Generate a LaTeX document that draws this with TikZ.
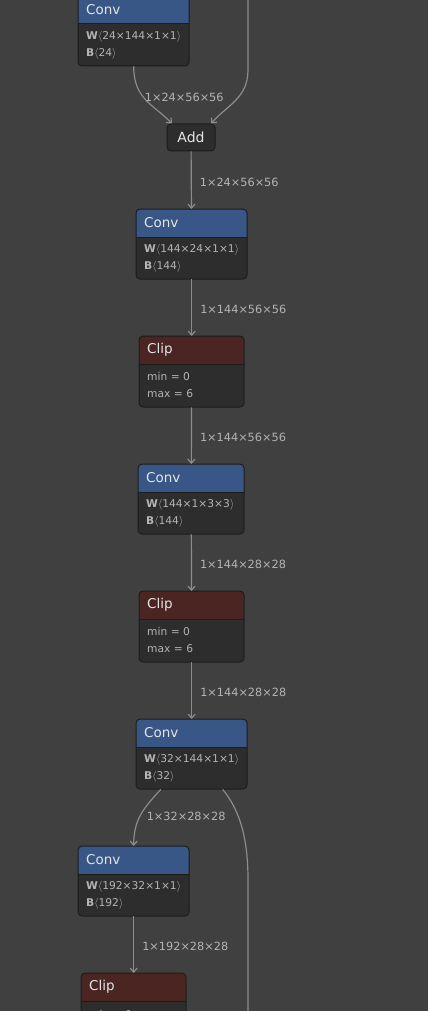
\documentclass[tikz,border=0pt]{standalone}
\usepackage{fontspec}
\setmainfont{DejaVu Sans}
\usetikzlibrary{positioning,calc,arrows.meta}

\definecolor{canvas}{HTML}{404040}
\definecolor{opbody}{HTML}{2D2D2D}
\definecolor{opline}{HTML}{1C1C1C}
\definecolor{layerblue}{HTML}{385686}
\definecolor{activred}{HTML}{4A2521}
\definecolor{edgegray}{HTML}{8C8C8C}
\definecolor{labelgray}{HTML}{B4B4B4}

\tikzstyle{opTitle} = [inner sep=0pt, anchor=west, text=white!90!black, font=\fontsize{13.5}{16}\selectfont]
\tikzstyle{opAttr} = [inner sep=0pt, anchor=west, align=left, text=labelgray, font=\fontsize{10.7}{17}\selectfont]
\tikzstyle{addNode} = [rectangle, rounded corners=4pt, minimum width=48pt, minimum height=27pt, inner sep=0pt, fill=opbody, draw=opline, line width=1pt, text=white!90!black, font=\fontsize{14}{16}\selectfont]
\tikzstyle{lbl} = [inner sep=0pt, text=labelgray, font=\fontsize{11.3}{14}\selectfont]
\tikzstyle{edge} = [edgegray, line width=1.2pt, -{Straight Barb[length=4pt,width=7pt]}]
\tikzstyle{wire} = [edgegray, line width=1.2pt]

% box with coloured head: name, left, top, width, height, head colour, title, attributes
\newcommand{\netop}[8]{%
  \begin{scope}
    \clip[rounded corners=4pt] (#2,#3) rectangle ++(#4,#5);
    \fill[opbody] (#2,#3) rectangle ++(#4,#5);
    \fill[#6] (#2,#3) rectangle ++(#4,28);
  \end{scope}
  \draw[opline, line width=1pt] (#2,#3+28) -- ++(#4,0);
  \draw[opline, line width=1pt, rounded corners=4pt] (#2,#3) rectangle ++(#4,#5);
  \node (#1) [inner sep=0pt, minimum width=#4pt, minimum height=#5pt, anchor=north west] at (#2,#3) {};
  \node (#1-title) [opTitle] at (#2+8,#3+14) {#7};
  \node (#1-attr) [opAttr] at (#2+8,#3+49.5) {#8};
}
\newcommand{\wt}[1]{\textbf{W}$\langle$#1$\rangle$}
\newcommand{\bs}[1]{\textbf{B}$\langle$#1$\rangle$}

\begin{document}
\begin{tikzpicture}[x=1pt, y=-1pt]
    \fill[canvas] (0,0) rectangle (428,1011);
    \useasboundingbox (0,0) rectangle (428,1011);

    \netop{conv1}{78}{-4}{111}{70}{layerblue}{Conv}{\wt{24×144×1×1}\\ \bs{24}}
    \node (add) [addNode] at (191,137.5) {Add};
    \netop{conv2}{136}{209}{111}{70}{layerblue}{Conv}{\wt{144×24×1×1}\\ \bs{144}}
    \netop{clip1}{139}{336}{105}{71}{activred}{Clip}{min = 0\\ max = 6}
    \netop{conv3}{138}{464}{106}{70}{layerblue}{Conv}{\wt{144×1×3×3}\\ \bs{144}}
    \netop{clip2}{139}{591}{105}{71}{activred}{Clip}{min = 0\\ max = 6}
    \netop{conv4}{136}{719}{111}{70}{layerblue}{Conv}{\wt{32×144×1×1}\\ \bs{32}}
    \netop{conv5}{78}{846}{111}{70}{layerblue}{Conv}{\wt{192×32×1×1}\\ \bs{192}}
    \netop{clip3}{81}{973}{105}{71}{activred}{Clip}{min = 0\\ max = 6}

    \coordinate (skipIn) at (248,-10);
    \coordinate (skipOut) at (248,1020);

    \draw [edge] (conv1.south) .. controls +(0,32) and +(-20,-20) .. ($(add.north)+(-19,0)$)
        node [lbl, anchor=west, pos=0.45, xshift=1pt] {1×24×56×56};
    \draw [edge] (skipIn) -- (248,70) .. controls +(0,28) and +(16,-18) .. ($(add.north)+(20,0)$);
    \draw [edge] (add) -- (conv2) node [lbl, right=8pt, midway, yshift=-2pt] {1×24×56×56};
    \draw [edge] (conv2) -- (clip1) node [lbl, right=8pt, midway, yshift=-2pt] {1×144×56×56};
    \draw [edge] (clip1) -- (conv3) node [lbl, right=8pt, midway, yshift=-2pt] {1×144×56×56};
    \draw [edge] (conv3) -- (clip2) node [lbl, right=8pt, midway, yshift=-2pt] {1×144×28×28};
    \draw [edge] (clip2) -- (conv4) node [lbl, right=8pt, midway, yshift=-2pt] {1×144×28×28};
    \draw [edge] ($(conv4.south)+(-31,0)$) .. controls +(-16,18) and +(0,-28) .. (conv5.north)
        node [lbl, anchor=west, pos=0.5, xshift=5pt, yshift=-2pt] {1×32×28×28};
    \draw [wire] ($(conv4.south)+(31,0)$) .. controls +(18,22) and +(0,-40) .. (248,880) -- (skipOut);
    \draw [edge] (conv5) -- (clip3) node [lbl, right=8pt, midway, yshift=-2pt] {1×192×28×28};

\end{tikzpicture}
\end{document}
